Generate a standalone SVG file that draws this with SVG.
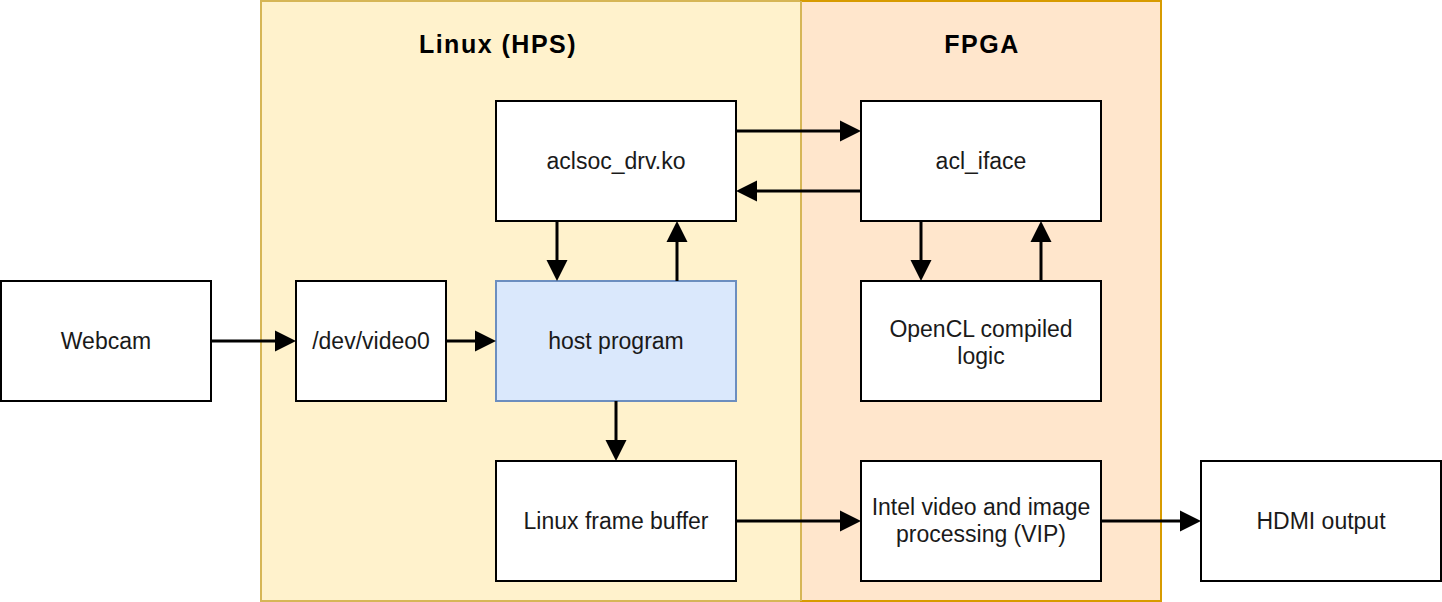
<svg xmlns="http://www.w3.org/2000/svg" width="1442" height="602" viewBox="0 0 1442 602">
<defs>
<style>
.box{fill:#ffffff;stroke:#000000;stroke-width:2}
.host{fill:#dae8fc;stroke:#6c8ebf;stroke-width:2}
.lbl{font-family:"Liberation Sans",Arial,sans-serif;font-size:23px;fill:#1a1a1a;text-anchor:middle}
.title{font-family:"Liberation Sans",Arial,sans-serif;font-size:25px;font-weight:bold;fill:#000000;text-anchor:middle;letter-spacing:1.5px}
.conn line{stroke:#000000;stroke-width:3;fill:none;marker-end:url(#arr)}
</style>
<marker id="arr" markerUnits="userSpaceOnUse" markerWidth="22" markerHeight="22" refX="0" refY="10.5" orient="auto" viewBox="0 0 22 21">
<path d="M0,0 L21,10.5 L0,21 Z" fill="#000000"/>
</marker>
</defs>
<rect width="1442" height="602" fill="#ffffff"/>
<g id="linux-hps">
<rect x="261" y="1" width="540" height="600" fill="#fff2cc" stroke="#d6b656" stroke-width="2"/>
<text class="title" x="498" y="53">Linux (HPS)</text>
</g>
<g id="fpga">
<rect x="801" y="1" width="360" height="600" fill="#ffe6cc" stroke="#d79b00" stroke-width="2"/>
<line x1="801" y1="1" x2="801" y2="601" stroke="#d6b656" stroke-width="2"/>
<text class="title" x="982" y="53">FPGA</text>
</g>
<g id="aclsoc">
<rect class="box" x="496" y="101" width="240" height="120"/>
<text class="lbl" x="616" y="169">aclsoc_drv.ko</text>
</g>
<g id="acl-iface">
<rect class="box" x="861" y="101" width="240" height="120"/>
<text class="lbl" x="981" y="169">acl_iface</text>
</g>
<g id="webcam">
<rect class="box" x="1" y="281" width="210" height="120"/>
<text class="lbl" x="106" y="349">Webcam</text>
</g>
<g id="dev-video0">
<rect class="box" x="296" y="281" width="150" height="120"/>
<text class="lbl" x="371" y="349">/dev/video0</text>
</g>
<g id="host-program">
<rect class="host" x="496" y="281" width="240" height="120"/>
<text class="lbl" x="616" y="349">host program</text>
</g>
<g id="opencl">
<rect class="box" x="861" y="281" width="240" height="120"/>
<text class="lbl" x="981" y="337">OpenCL compiled</text>
<text class="lbl" x="981" y="364">logic</text>
</g>
<g id="framebuffer">
<rect class="box" x="496" y="461" width="240" height="120"/>
<text class="lbl" x="616" y="529">Linux frame buffer</text>
</g>
<g id="vip">
<rect class="box" x="861" y="461" width="240" height="120"/>
<text class="lbl" x="981" y="515">Intel video and image</text>
<text class="lbl" x="981" y="542">processing (VIP)</text>
</g>
<g id="hdmi">
<rect class="box" x="1201" y="461" width="240" height="120"/>
<text class="lbl" x="1321" y="529">HDMI output</text>
</g>
<g id="connectors" class="conn">
<line x1="736" y1="131" x2="840" y2="131"/>
<line x1="861" y1="191" x2="757" y2="191"/>
<line x1="557" y1="221" x2="557" y2="260"/>
<line x1="677" y1="281" x2="677" y2="242"/>
<line x1="921" y1="221" x2="921" y2="260"/>
<line x1="1041" y1="281" x2="1041" y2="242"/>
<line x1="211" y1="341" x2="275" y2="341"/>
<line x1="446" y1="341" x2="475" y2="341"/>
<line x1="616" y1="401" x2="616" y2="440"/>
<line x1="736" y1="521" x2="840" y2="521"/>
<line x1="1101" y1="521" x2="1180" y2="521"/>
</g>
</svg>
